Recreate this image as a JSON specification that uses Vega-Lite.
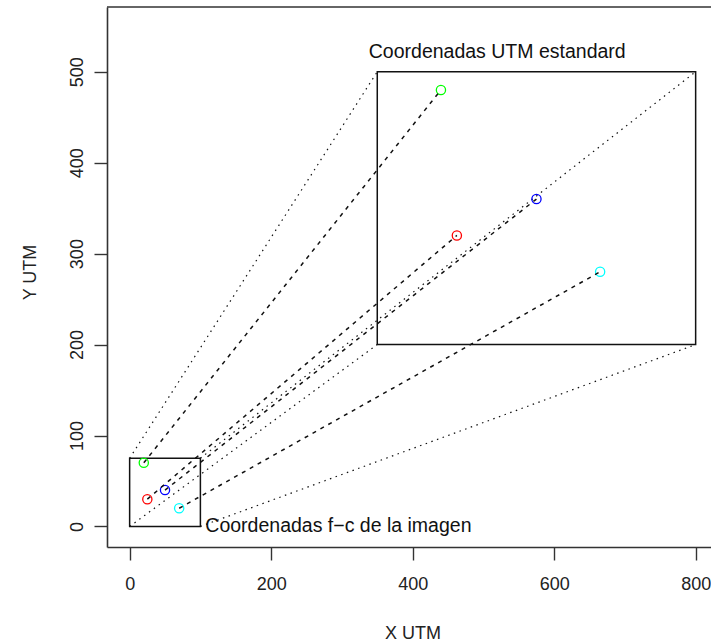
{
  "$schema": "https://vega.github.io/schema/vega-lite/v6.json",
  "width": 604,
  "height": 540,
  "autosize": "none",
  "padding": {"left": 107, "top": 7, "right": 0, "bottom": 96},
  "background": "white",
  "config": {
    "view": {"stroke": null},
    "font": "Liberation Sans",
    "axis": {
      "grid": false,
      "domainColor": "#333333",
      "domainWidth": 1.6,
      "tickColor": "#333333",
      "tickWidth": 1.4,
      "tickSize": 13,
      "labelFont": "Liberation Sans",
      "labelFontSize": 18,
      "labelColor": "#222222",
      "titleFont": "Liberation Sans",
      "titleFontSize": 18,
      "titleFontWeight": "normal",
      "titleColor": "#222222"
    }
  },
  "datasets": {
    "marcos": [
      {"marco": "imagen", "x1": 0, "y1": 0, "x2": 100, "y2": 75},
      {"marco": "utm", "x1": 350, "y1": 200, "x2": 800, "y2": 500}
    ],
    "esquinas": [
      {"x1": 0, "y1": 0, "x2": 350, "y2": 200},
      {"x1": 100, "y1": 0, "x2": 800, "y2": 200},
      {"x1": 0, "y1": 75, "x2": 350, "y2": 500},
      {"x1": 100, "y1": 75, "x2": 800, "y2": 500}
    ],
    "puntos": [
      {"punto": "1", "fc_x": 25, "fc_y": 30, "utm_x": 462.5, "utm_y": 320},
      {"punto": "2", "fc_x": 20, "fc_y": 70, "utm_x": 440, "utm_y": 480},
      {"punto": "3", "fc_x": 50, "fc_y": 40, "utm_x": 575, "utm_y": 360},
      {"punto": "4", "fc_x": 70, "fc_y": 20, "utm_x": 665, "utm_y": 280}
    ],
    "etiquetas": [
      {"texto": "Coordenadas UTM estandard", "x": 338, "y": 522},
      {"texto": "Coordenadas f−c de la imagen", "x": 107, "y": 1}
    ],
    "marco_sup": [
      {"y": 571.2}
    ]
  },
  "layer": [
    {
      "data": {"name": "marcos"},
      "mark": {"type": "rect", "fill": null, "stroke": "#111111", "strokeWidth": 1.5},
      "encoding": {
        "x": {
          "field": "x1", "type": "quantitative",
          "scale": {"domain": [-32, 821.7], "nice": false, "zero": false},
          "axis": {"values": [0, 200, 400, 600, 800], "title": "X UTM", "labelPadding": 15,
                   "titleX": 305.5, "titleY": 86, "titleBaseline": "middle", "titleAnchor": null}
        },
        "x2": {"field": "x2"},
        "y": {
          "field": "y1", "type": "quantitative",
          "scale": {"domain": [-22.6, 571.2], "nice": false, "zero": false},
          "axis": {"values": [0, 100, 200, 300, 400, 500], "title": "Y UTM",
                   "labelAngle": 270, "labelAlign": "center", "labelBaseline": "bottom", "labelPadding": 8,
                   "titleX": -77, "titleY": 265, "titleAngle": 270, "titleAlign": "center", "titleBaseline": "middle"}
        },
        "y2": {"field": "y2"}
      }
    },
    {
      "data": {"name": "marco_sup"},
      "mark": {"type": "rule", "stroke": "#333333", "strokeWidth": 1.6},
      "encoding": {"y": {"field": "y", "type": "quantitative"}}
    },
    {
      "data": {"name": "esquinas"},
      "mark": {"type": "rule", "stroke": "#111111", "strokeWidth": 1.2, "strokeDash": [1.5, 4.5]},
      "encoding": {
        "x": {"field": "x1", "type": "quantitative"},
        "y": {"field": "y1", "type": "quantitative"},
        "x2": {"field": "x2"},
        "y2": {"field": "y2"}
      }
    },
    {
      "data": {"name": "puntos"},
      "mark": {"type": "point", "shape": "circle", "filled": false, "size": 85, "strokeWidth": 1.3, "opacity": 1},
      "encoding": {
        "x": {"field": "fc_x", "type": "quantitative"},
        "y": {"field": "fc_y", "type": "quantitative"},
        "color": {"field": "punto", "type": "nominal", "legend": null,
                  "scale": {"domain": ["1", "2", "3", "4"], "range": ["#FF0000", "#00FF00", "#0000FF", "#00FFFF"]}}
      }
    },
    {
      "data": {"name": "puntos"},
      "mark": {"type": "point", "shape": "circle", "filled": false, "size": 85, "strokeWidth": 1.3, "opacity": 1},
      "encoding": {
        "x": {"field": "utm_x", "type": "quantitative"},
        "y": {"field": "utm_y", "type": "quantitative"},
        "color": {"field": "punto", "type": "nominal", "legend": null}
      }
    },
    {
      "data": {"name": "puntos"},
      "mark": {"type": "rule", "stroke": "#111111", "strokeWidth": 1.5, "strokeDash": [4, 5]},
      "encoding": {
        "x": {"field": "fc_x", "type": "quantitative"},
        "y": {"field": "fc_y", "type": "quantitative"},
        "x2": {"field": "utm_x"},
        "y2": {"field": "utm_y"}
      }
    },
    {
      "data": {"name": "etiquetas"},
      "mark": {"type": "text", "align": "left", "baseline": "middle", "font": "Liberation Sans", "fontSize": 19.5, "fill": "#111111"},
      "encoding": {
        "x": {"field": "x", "type": "quantitative"},
        "y": {"field": "y", "type": "quantitative"},
        "text": {"field": "texto"}
      }
    }
  ]
}
